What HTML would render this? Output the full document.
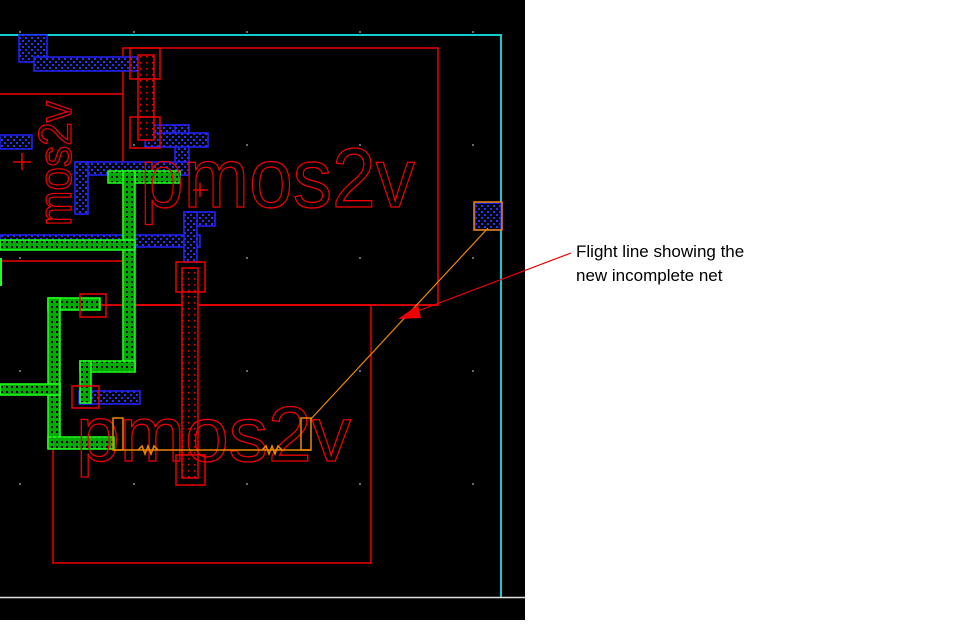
<!DOCTYPE html>
<html><head><meta charset="utf-8"><style>
body{margin:0;background:#fff;width:963px;height:630px;overflow:hidden;font-family:"Liberation Sans",sans-serif}
svg{position:absolute;left:0;top:0}
.t{position:absolute;left:576px;font-size:17px;color:#000;line-height:24px}
</style></head><body>
<svg width="963" height="630" xmlns="http://www.w3.org/2000/svg">
<defs>
<pattern id="pb" width="6" height="6" patternUnits="userSpaceOnUse"><rect width="6" height="6" fill="#000"/><rect x="1" y="1" width="2" height="2" fill="#2233ff"/><rect x="4" y="4" width="2" height="2" fill="#2233ff"/></pattern>
<pattern id="pg" width="5" height="5" patternUnits="userSpaceOnUse"><rect width="5" height="5" fill="#0a0"/><rect x="1" y="1" width="2" height="2" fill="#000"/></pattern>
<pattern id="pr" width="6" height="6" patternUnits="userSpaceOnUse"><rect width="6" height="6" fill="#000"/><rect x="2" y="2" width="1.5" height="1.5" fill="#f00"/></pattern>
</defs>
<rect x="0" y="0" width="525" height="620" fill="#000"/>
<g fill="#667">
<rect x="19" y="31" width="2" height="2"/><rect x="133" y="31" width="2" height="2"/><rect x="246" y="31" width="2" height="2"/><rect x="359" y="31" width="2" height="2"/><rect x="472" y="31" width="2" height="2"/>
<rect x="19" y="144" width="2" height="2"/><rect x="133" y="144" width="2" height="2"/><rect x="246" y="144" width="2" height="2"/><rect x="359" y="144" width="2" height="2"/><rect x="472" y="144" width="2" height="2"/>
<rect x="19" y="257" width="2" height="2"/><rect x="133" y="257" width="2" height="2"/><rect x="246" y="257" width="2" height="2"/><rect x="359" y="257" width="2" height="2"/><rect x="472" y="257" width="2" height="2"/>
<rect x="19" y="370" width="2" height="2"/><rect x="133" y="370" width="2" height="2"/><rect x="246" y="370" width="2" height="2"/><rect x="359" y="370" width="2" height="2"/><rect x="472" y="370" width="2" height="2"/>
<rect x="19" y="483" width="2" height="2"/><rect x="133" y="483" width="2" height="2"/><rect x="246" y="483" width="2" height="2"/><rect x="359" y="483" width="2" height="2"/><rect x="472" y="483" width="2" height="2"/>
</g>
<line x1="0" y1="35" x2="502" y2="35" stroke="#1cc" stroke-width="2"/>
<line x1="501" y1="35" x2="501" y2="597" stroke="#1cc" stroke-width="2"/>
<line x1="0" y1="597.5" x2="525" y2="597.5" stroke="#ddd" stroke-width="1.5"/>
<g fill="none" stroke="#e00" stroke-width="1.5">
<rect x="123" y="48" width="315" height="257"/>
<rect x="53" y="305" width="318" height="258"/>
<line x1="0" y1="94" x2="123" y2="94"/>
<line x1="0" y1="261" x2="123" y2="261"/>
<line x1="100" y1="305" x2="438" y2="305"/>
</g>
<g fill="url(#pb)" stroke="#22f" stroke-width="1.5">
<rect x="19" y="35" width="28" height="27"/>
<rect x="34" y="57" width="119" height="14"/>
<rect x="0" y="135" width="32" height="14"/>
<rect x="140" y="125" width="48" height="12"/>
<rect x="175" y="125" width="14" height="50"/>
<rect x="145" y="133" width="63" height="14"/>
<rect x="75" y="162" width="114" height="13"/>
<rect x="75" y="162" width="13" height="52"/>
<rect x="0" y="235" width="200" height="12"/>
<rect x="184" y="212" width="31" height="14"/>
<rect x="184" y="212" width="13" height="50"/>
<rect x="79" y="391" width="61" height="13"/>
<rect x="475" y="203" width="26" height="27"/>
</g>
<g fill="url(#pg)" stroke="#2f2" stroke-width="1.5">
<rect x="108" y="171" width="72" height="12"/>
<rect x="123" y="171" width="12" height="200"/>
<rect x="0" y="240" width="135" height="10"/>
<rect x="48" y="298" width="52" height="12"/>
<rect x="48" y="298" width="12" height="150"/>
<rect x="0" y="384" width="60" height="11"/>
<rect x="48" y="437" width="66" height="12"/>
<rect x="80" y="361" width="55" height="11"/>
<rect x="80" y="361" width="11" height="42"/>
</g>
<rect x="0" y="258" width="2" height="28" fill="#2f2"/>
<g fill="url(#pr)" stroke="#e00" stroke-width="1.5">
<rect x="138" y="55" width="16" height="85"/>
<rect x="182" y="268" width="16" height="210"/>
</g>
<g fill="none" stroke="#e00" stroke-width="1.5">
<rect x="130" y="48" width="30" height="31"/>
<rect x="130" y="117" width="30" height="31"/>
<rect x="176" y="262" width="29" height="30"/>
<rect x="176" y="455" width="29" height="30"/>
<rect x="80" y="294" width="26" height="23"/>
<rect x="72" y="386" width="27" height="22"/>
</g>
<g fill="none" stroke="#e00" stroke-width="1.5">
<line x1="13" y1="162" x2="31" y2="162"/><line x1="22" y1="153" x2="22" y2="170"/>
<line x1="193" y1="190" x2="208" y2="190"/><line x1="200" y1="183" x2="200" y2="197"/>
</g>
<text x="140" y="207" font-family="Liberation Sans,sans-serif" font-size="84" fill="none" stroke="#e00" stroke-width="1.3" textLength="275" lengthAdjust="spacingAndGlyphs">pmos2v</text>
<text x="76" y="461" font-family="Liberation Sans,sans-serif" font-size="78" fill="none" stroke="#e00" stroke-width="1.3" textLength="275" lengthAdjust="spacingAndGlyphs">pmos2v</text>
<text transform="translate(71,226) rotate(-90)" font-family="Liberation Sans,sans-serif" font-size="46" fill="none" stroke="#e00" stroke-width="1.3" textLength="125" lengthAdjust="spacingAndGlyphs">mos2v</text>
<g fill="none" stroke="#e80" stroke-width="1.5">
<rect x="113" y="418" width="10" height="32"/>
<rect x="301" y="418" width="10" height="32"/>
<line x1="113" y1="450" x2="311" y2="450"/>
<polyline points="138,450 142,446 145,454 148,446 151,454 154,446 158,450"/>
<polyline points="262,450 266,446 269,454 272,446 275,454 278,446 282,450"/>
<line x1="310" y1="420" x2="488" y2="228" stroke-width="1.2"/>
<rect x="474" y="202" width="28" height="28"/>
</g>
<line x1="571" y1="253" x2="410" y2="314" stroke="#e00" stroke-width="1.2"/>
<polygon points="398,319 418,305 421,318" fill="#e00"/>
</svg>
<div class="t" style="top:240px">Flight line showing the</div>
<div class="t" style="top:264px">new incomplete net</div>
</body></html>
